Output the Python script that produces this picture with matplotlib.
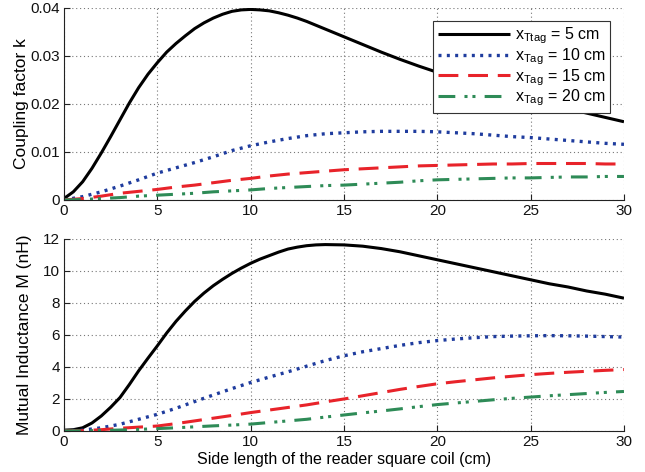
import matplotlib
matplotlib.use('Agg')
import matplotlib.pyplot as plt

# Side length of the reader square coil (cm)
side = list(range(0, 31))
# finer sampling for the steep 5 cm curves
side_fine = [0, 0.5, 1, 1.5, 2, 2.5, 3, 3.5, 4, 4.5, 5, 5.5, 6, 6.5, 7, 7.5, 8, 8.5,
             9, 9.5, 10, 10.5, 11, 11.5, 12, 12.5, 13, 13.5, 14,
             15, 16, 17, 18, 19, 20, 21, 22, 23, 24, 25, 26, 27, 28, 29, 30]

# Coupling factor k for each tag distance
k_5 = [0.0003, 0.0017, 0.0038, 0.0066, 0.0098, 0.0132, 0.0167, 0.0202, 0.0234, 0.0262,
       0.0286, 0.0308, 0.0326, 0.0342, 0.0357, 0.0369, 0.0379, 0.0387, 0.0393, 0.0396,
       0.0397, 0.0396, 0.0394, 0.0390, 0.0385, 0.0379, 0.0372, 0.0364, 0.0356,
       0.0340, 0.0324, 0.0308, 0.0293, 0.0279, 0.0266, 0.0253, 0.0241, 0.0230, 0.0219,
       0.0209, 0.0199, 0.0190, 0.0181, 0.0172, 0.0163]
k_10 = [0.0, 0.0007, 0.0017, 0.0029, 0.0042, 0.0056, 0.0067, 0.0078, 0.0090, 0.0103,
        0.0113, 0.0121, 0.0128, 0.0134, 0.0138, 0.0140, 0.0142, 0.0143, 0.0143, 0.0143,
        0.0142, 0.0140, 0.0138, 0.0135, 0.0132, 0.0130, 0.0127, 0.0124, 0.0121, 0.0118,
        0.0116]
k_15 = [0.0, 0.0003, 0.0008, 0.0014, 0.0018, 0.0022, 0.0027, 0.0031, 0.0036, 0.0041,
        0.0045, 0.0050, 0.0054, 0.0057, 0.0060, 0.0063, 0.0065, 0.0067, 0.0069, 0.0071,
        0.0072, 0.0073, 0.0074, 0.0075, 0.0075, 0.0076, 0.0076, 0.0076, 0.0076, 0.0075,
        0.0075]
k_20 = [0.0, 0.0001, 0.0003, 0.0005, 0.0008, 0.0010, 0.0012, 0.0014, 0.0017, 0.0019,
        0.0021, 0.0024, 0.0026, 0.0028, 0.0030, 0.0031, 0.0033, 0.0035, 0.0037, 0.0040,
        0.0042, 0.0043, 0.0044, 0.0045, 0.0046, 0.0046, 0.0047, 0.0048, 0.0048, 0.0049,
        0.0049]

# Mutual inductance M (nH) for each tag distance
m_5 = [0.05, 0.08, 0.20, 0.50, 0.94, 1.48, 2.09, 2.90, 3.76, 4.55,
       5.32, 6.12, 6.85, 7.50, 8.10, 8.62, 9.08, 9.48, 9.85, 10.18,
       10.48, 10.74, 10.96, 11.18, 11.37, 11.49, 11.58, 11.63, 11.65,
       11.63, 11.55, 11.40, 11.20, 10.95, 10.70, 10.45, 10.20, 9.95, 9.70,
       9.45, 9.20, 9.00, 8.75, 8.55, 8.30]
m_10 = [0.0, 0.05, 0.20, 0.42, 0.73, 1.04, 1.42, 1.84, 2.25, 2.65,
        3.03, 3.37, 3.70, 4.05, 4.40, 4.70, 4.95, 5.15, 5.35, 5.52,
        5.65, 5.75, 5.83, 5.90, 5.93, 5.95, 5.96, 5.95, 5.93, 5.90,
        5.87]
m_15 = [0.0, 0.02, 0.08, 0.17, 0.24, 0.31, 0.46, 0.63, 0.80, 0.97,
        1.15, 1.31, 1.47, 1.63, 1.82, 2.00, 2.20, 2.40, 2.60, 2.78,
        2.95, 3.08, 3.20, 3.32, 3.42, 3.52, 3.60, 3.67, 3.73, 3.79,
        3.84]
m_20 = [0.0, 0.01, 0.03, 0.06, 0.10, 0.15, 0.20, 0.26, 0.32, 0.37,
        0.43, 0.53, 0.63, 0.73, 0.87, 1.00, 1.13, 1.25, 1.38, 1.52,
        1.65, 1.75, 1.85, 1.95, 2.04, 2.12, 2.20, 2.27, 2.34, 2.41,
        2.47]

labels = [r'$\mathregular{x_{Ttag}}$ = 5 cm',
          r'$\mathregular{x_{Tag}}$ = 10 cm',
          r'$\mathregular{x_{Tag}}$ = 15 cm',
          r'$\mathregular{x_{Tag}}$ = 20 cm']

plt.rcParams['font.family'] = ['Liberation Sans', 'DejaVu Sans']
plt.rcParams['mathtext.fontset'] = 'custom'
plt.rcParams['mathtext.rm'] = 'Liberation Sans'
plt.rcParams['mathtext.it'] = 'Liberation Sans'

styles = [
    dict(color='black', linestyle='-', lw=2.2),
    dict(color='#1f3c9e', linestyle=(0, (0.9, 1.6)), lw=2.4),
    dict(color='#e8232a', linestyle=(0, (6.5, 3.2)), lw=2.2),
    dict(color='#2e8b57', linestyle=(0, (5.5, 3.0, 1.0, 1.6, 1.0, 3.0)), lw=2.2),
]

fig = plt.figure(figsize=(6.45, 4.72), dpi=100)
ax1 = fig.add_axes([0.0992, 0.5763, 0.8682, 0.4068])
ax2 = fig.add_axes([0.0992, 0.0869, 0.8682, 0.4068])

panels = [(ax1, [k_5, k_10, k_15, k_20]), (ax2, [m_5, m_10, m_15, m_20])]
for ax, series in panels:
    for i, (vals, st, lab) in enumerate(zip(series, styles, labels)):
        xs = side_fine if i == 0 else side
        ax.plot(xs, vals, label=lab, solid_capstyle='butt', dash_capstyle='butt', **st)
    ax.set_xlim(0, 30)
    ax.set_xticks([0, 5, 10, 15, 20, 25, 30])
    ax.grid(True, color='#777777', linestyle=(0, (1, 2.5)), linewidth=0.8)
    ax.set_axisbelow(True)
    for s in ['top', 'right']:
        ax.spines[s].set_visible(False)
    for s in ['left', 'bottom']:
        ax.spines[s].set_color('#222222')
        ax.spines[s].set_linewidth(0.8)
    ax.tick_params(direction='in', length=4, width=0.8, labelsize=11, pad=3,
                   colors='#222222', labelcolor='#111111')

ax1.set_ylim(0, 0.04)
ax1.set_yticks([0, 0.01, 0.02, 0.03, 0.04])
ax1.set_yticklabels(['0', '0.01', '0.02', '0.03', '0.04'])
ax1.set_ylabel('Coupling factor k', fontsize=12.5, labelpad=1)

ax2.set_ylim(0, 12)
ax2.set_yticks([0, 2, 4, 6, 8, 10, 12])
ax2.set_ylabel('Mutual Inductance M (nH)', fontsize=12.5, labelpad=8)
ax2.set_xlabel('Side length of the reader square coil (cm)', fontsize=11.5, labelpad=2)

leg = ax1.legend(loc='upper right', bbox_to_anchor=(0.975, 0.932), borderaxespad=0,
                 fontsize=11.5, handlelength=4.5, handletextpad=0.3, labelspacing=0.0,
                 borderpad=0.3, fancybox=False, framealpha=1, edgecolor='#333333')
leg.get_frame().set_linewidth(0.8)

fig.savefig('out.png', dpi=100)
